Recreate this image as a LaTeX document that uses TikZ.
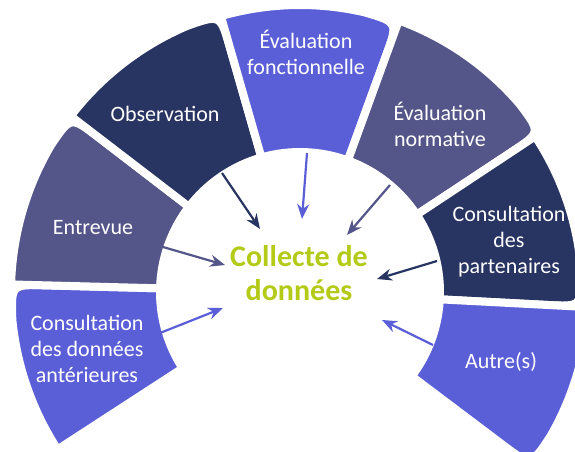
\documentclass[tikz,border=0pt]{standalone}
\usepackage{fontspec}
\setmainfont{Carlito}
\usetikzlibrary{arrows.meta}
\definecolor{navy}{HTML}{283461}
\definecolor{ardoise}{HTML}{545689}
\definecolor{bleuviolet}{HTML}{5B5FD7}
\definecolor{vertlime}{HTML}{B3CA17}
\begin{document}
\begin{tikzpicture}[x=1pt, y=1pt,
    lbl/.style={text=white, align=center, font=\fontsize{22}{26}\selectfont},
    fleche/.style={line width=2.2pt, -{Stealth[length=15pt, width=12pt]}}]
    \clip (-300,-159) rectangle (275,292);
    % Secteurs (coin exterieur arrondi du cote horaire)
    \foreach \a/\b/\R/\col in {213/178.5/289/bleuviolet, 178.5/142.5/289/ardoise, 142.5/106/289/navy,
        106/70/287/bleuviolet, 70/33.5/289/ardoise, 33.5/-3/282/navy, -3/-37/289/bleuviolet}
        \filldraw[fill=\col, draw=white, line width=8pt]
            (\a:140) -- (\a:\R) arc[start angle=\a, end angle=\b+7, radius=\R]
            .. controls (\b:\R) .. (\b:\R-36) -- (\b:140)
            arc[start angle=\b, end angle=\a, radius=140] -- cycle;
    % Etiquettes
    \node[lbl] (anterieures) at (-213,-57) {Consultation\\des données\\antérieures};
    \node[lbl] (entrevue) at (-207,64) {Entrevue};
    \node[lbl] (observation) at (-135,178) {Observation};
    \node[lbl] (fonctionnelle) at (6,240) {Évaluation\\fonctionnelle};
    \node[lbl] (normative) at (140,168) {Évaluation\\normative};
    \node[lbl] (partenaires) at (209,50) {Consultation\\des\\partenaires};
    \node[lbl] (autres) at (201,-70) {Autre(s)};
    \node[text=vertlime, align=center, font=\fontsize{30}{34}\selectfont\bfseries] (collecte) at (-1,19) {Collecte de\\données};
    % Fleches vers le centre
    \coordinate (ant-d) at (-140,-41);  \coordinate (ant-f) at (-77,-16);
    \coordinate (ent-d) at (-137,45);   \coordinate (ent-f) at (-75,27);
    \coordinate (obs-d) at (-78,119);   \coordinate (obs-f) at (-40,63);
    \coordinate (fon-d) at (7,139);     \coordinate (fon-f) at (2,73);
    \coordinate (nor-d) at (90,107);    \coordinate (nor-f) at (47,57);
    \coordinate (par-d) at (137,31);    \coordinate (par-f) at (77,13);
    \coordinate (aut-d) at (133,-53);   \coordinate (aut-f) at (82,-28);
    \draw[fleche, bleuviolet] (ant-d) -- (ant-f);
    \draw[fleche, ardoise] (ent-d) -- (ent-f);
    \draw[fleche, navy] (obs-d) -- (obs-f);
    \draw[fleche, bleuviolet] (fon-d) -- (fon-f);
    \draw[fleche, ardoise] (nor-d) -- (nor-f);
    \draw[fleche, navy] (par-d) -- (par-f);
    \draw[fleche, bleuviolet] (aut-d) -- (aut-f);
\end{tikzpicture}
\end{document}
